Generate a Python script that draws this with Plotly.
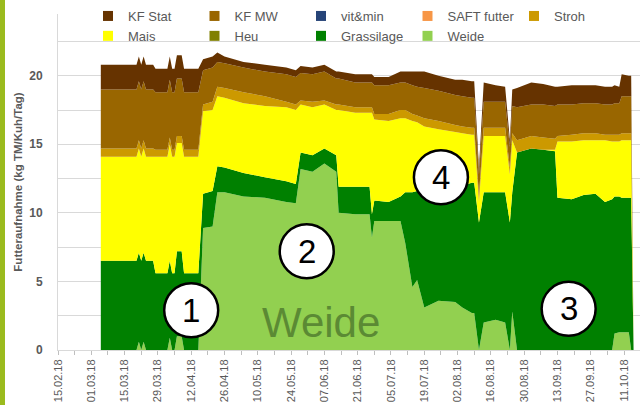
import plotly.graph_objects as go
from datetime import datetime

# ---------------- data (kg TM / Kuh / Tag) ----------------
dates = [
    "2018-03-05", "2018-03-20", "2018-03-21", "2018-03-22", "2018-03-23", "2018-03-24",
    "2018-03-27", "2018-03-28", "2018-04-02", "2018-04-03", "2018-04-04", "2018-04-05",
    "2018-04-06", "2018-04-08", "2018-04-09", "2018-04-15", "2018-04-17", "2018-04-21",
    "2018-04-23", "2018-04-26", "2018-05-04", "2018-05-13", "2018-05-22", "2018-05-26",
    "2018-05-28", "2018-06-02", "2018-06-07", "2018-06-12", "2018-06-13", "2018-06-20",
    "2018-06-26", "2018-06-27", "2018-06-28", "2018-07-04", "2018-07-09", "2018-07-11",
    "2018-07-14", "2018-07-16", "2018-07-19", "2018-07-25", "2018-08-01", "2018-08-04",
    "2018-08-08", "2018-08-09", "2018-08-11", "2018-08-13", "2018-08-18", "2018-08-22",
    "2018-08-24", "2018-08-25", "2018-08-27", "2018-09-02", "2018-09-07", "2018-09-12",
    "2018-09-13", "2018-09-19", "2018-09-24", "2018-09-29", "2018-10-03", "2018-10-06",
    "2018-10-07", "2018-10-09", "2018-10-10", "2018-10-13", "2018-10-14", "2018-10-15",
]
weide = [
    0, 0, 0.6, 0, 0.6, 0,
    0, 0, 0, 0.9, 0, 0,
    1.0, 1.0, 0, 0, 8.9, 9.0,
    11.5, 11.5, 11.2, 11.1, 10.8, 10.7,
    13.2, 13.0, 13.6, 13.0, 10.0, 9.9,
    9.9, 8.2, 9.4, 9.4, 9.4, 7.8,
    4.6, 5.1, 3.1, 3.6, 3.5, 3.1,
    2.7, 2.7, 0, 2.0, 2.2, 2.0,
    0, 2.8, 0, 0, 0, 0,
    0, 0, 0, 0, 0, 0,
    1.2, 1.3, 1.3, 1.3, 0, 0,
]
grassilage = [
    6.5, 6.5, 6.5, 6.5, 6.5, 6.5,
    6.5, 5.6, 5.6, 5.6, 5.6, 5.6,
    6.2, 6.2, 5.6, 5.6, 2.5, 2.6,
    1.9, 1.8, 1.7, 1.5, 1.5, 1.4,
    1.2, 1.2, 1.1, 1.2, 1.9, 2.0,
    2.0, 1.7, 1.5, 1.4, 1.8, 3.7,
    6.9, 6.5, 8.6, 8.2, 8.4, 8.9,
    9.5, 9.5, 9.3, 9.5, 9.3, 9.5,
    9.3, 8.7, 14.4, 14.7, 14.6, 14.5,
    11.1, 11.0, 11.3, 11.4, 10.8, 11.0,
    10.0, 9.9, 9.8, 9.8, 11.1, 0,
]
mais = [
    7.6, 7.6, 7.6, 7.6, 7.6, 7.6,
    7.6, 8.5, 8.5, 8.5, 8.5, 8.5,
    7.9, 7.9, 8.5, 8.5, 6.0, 5.9,
    5.1, 5.1, 5.1, 5.2, 5.4, 5.4,
    3.5, 3.5, 3.2, 3.3, 5.6, 5.4,
    5.4, 7.4, 5.9, 5.9, 5.7, 5.4,
    5.2, 5.0, 4.6, 4.3, 4.0, 3.8,
    3.5, 3.5, 1.5, 4.1, 4.1, 4.1,
    3.5, 3.8, 0, 0, 0, 0.1,
    4.1, 4.2, 4.0, 3.9, 4.5, 4.2,
    4.0, 4.0, 4.2, 4.2, 4.2, 0,
]
stroh = [
    0.6, 0.6, 0.6, 0.6, 0.6, 0.6,
    0.6, 0.5, 0.5, 0.5, 0.5, 0.5,
    0.5, 0.5, 0.5, 0.5, 0.5, 0.6,
    0.7, 0.7, 0.8, 0.7, 0.4, 0.4,
    0.3, 0.4, 0.3, 0.4, 0.4, 0.4,
    0.4, 0.4, 0.4, 0.5, 0.6, 0.6,
    0.5, 0.5, 0.6, 0.6, 0.5, 0.5,
    0.5, 0.5, 0.5, 0.6, 0.6, 0.6,
    0.5, 0.5, 0.9, 0.9, 0.9, 0.8,
    0.4, 0.5, 0.5, 0.5, 0.4, 0.5,
    0.5, 0.5, 0.5, 0.5, 0.5, 0,
]
kf_mw = [
    4.3, 4.3, 4.3, 4.3, 4.3, 4.3,
    4.3, 4.2, 4.2, 4.2, 4.2, 4.2,
    4.2, 4.2, 4.2, 4.2, 2.5, 2.5,
    1.8, 1.8, 1.8, 1.8, 2.0, 2.0,
    2.0, 2.0, 2.1, 1.9, 1.9, 1.8,
    1.8, 1.8, 2.1, 2.1, 2.0, 2.0,
    2.1, 2.1, 2.2, 2.2, 2.2, 2.2,
    2.2, 2.2, 1.5, 1.9, 1.9, 1.9,
    1.5, 2.0, 2.4, 2.3, 2.4, 2.4,
    2.3, 2.2, 2.2, 2.2, 2.2, 2.2,
    2.3, 2.3, 2.7, 2.7, 2.7, 0,
]
kf_stat = [
    1.8, 1.8, 1.8, 1.8, 1.8, 1.8,
    1.8, 1.7, 1.7, 1.7, 1.7, 1.7,
    1.7, 1.7, 1.7, 1.7, 0.8, 0.8,
    0.7, 0.5, 0.4, 0.5, 0.5, 0.5,
    0.5, 0.5, 0.5, 0.5, 0.5, 0.6,
    0.6, 0.6, 0.6, 0.6, 0.8, 0.8,
    1.0, 1.1, 1.2, 1.1, 1.1, 1.2,
    1.2, 1.2, 0.5, 1.4, 1.2, 1.1,
    0.5, 1.2, 1.4, 1.6, 1.5, 1.4,
    1.3, 1.4, 1.3, 1.3, 1.3, 1.3,
    1.3, 1.2, 1.6, 1.5, 1.5, 0,
]

# stacking order (bottom -> top)
stack_names = ["Weide", "Grassilage", "Mais", "Stroh", "KF MW", "KF Stat"]
stack_values = [weide, grassilage, mais, stroh, kf_mw, kf_stat]

# legend (order as shown)
legend_names = ["KF Stat", "KF MW", "vit&min", "SAFT futter", "Stroh",
                "Mais", "Heu", "Grassilage", "Weide"]
colors = {
    "KF Stat": "#663300",
    "KF MW": "#996600",
    "vit&min": "#264478",
    "SAFT futter": "#F79646",
    "Stroh": "#CC9900",
    "Mais": "#FFFF00",
    "Heu": "#808000",
    "Grassilage": "#008000",
    "Weide": "#92D050",
}

x_tick_labels = ["15.02.18", "01.03.18", "15.03.18", "29.03.18", "12.04.18", "26.04.18",
                 "10.05.18", "24.05.18", "07.06.18", "21.06.18", "05.07.18", "19.07.18",
                 "02.08.18", "16.08.18", "30.08.18", "13.09.18", "27.09.18", "11.10.18"]
x_tick_vals = [datetime.strptime(t, "%d.%m.%y").strftime("%Y-%m-%d") for t in x_tick_labels]
y_tick_vals = [0, 5, 10, 15, 20]

circle_texts = ["1", "2", "3", "4"]
circle_x = ["2018-04-12", "2018-05-30 14:00", "2018-09-17 17:00", "2018-07-26"]
circle_y = [2.9, 7.2, 3.0, 12.6]

FONT = "Liberation Sans"
GRAY = "#595959"

fig = go.Figure()

for name, vals in zip(stack_names, stack_values):
    fig.add_trace(go.Scatter(
        x=dates, y=vals, name=name, stackgroup="one", mode="none",
        fillcolor=colors[name], line=dict(width=0), showlegend=False,
        hoverinfo="x+y+name",
    ))

for name in legend_names:
    fig.add_trace(go.Scatter(
        x=[None], y=[None], name=name, mode="markers",
        marker=dict(symbol="square", size=10, color=colors[name]),
        showlegend=True,
    ))

# left decorative strip
fig.add_shape(type="rect", xref="paper", yref="paper",
              x0=-58 / 582, x1=-53 / 582, y0=-55 / 336, y1=1 + 14 / 336,
              fillcolor="#9BBB1E", line=dict(width=0), layer="above")

for t, cx, cy in zip(circle_texts, circle_x, circle_y):
    fig.add_shape(type="circle", xref="x", yref="y",
                  xsizemode="pixel", ysizemode="pixel",
                  xanchor=cx, yanchor=cy,
                  x0=-27, x1=27, y0=-27, y1=27,
                  line=dict(color="black", width=2.5), fillcolor="white",
                  layer="above")
    fig.add_annotation(x=cx, y=cy, text=t, showarrow=False,
                       font=dict(family=FONT, size=33, color="black"),
                       xanchor="center", yanchor="middle")

fig.add_annotation(x="2018-06-05 12:00", y=2.0, text="Weide", showarrow=False,
                   font=dict(family=FONT, size=42, color="#5B8A34"),
                   xanchor="center", yanchor="middle")

fig.update_layout(
    template="none",
    width=640, height=405,
    margin=dict(l=58, r=0, t=14, b=55, pad=0),
    paper_bgcolor="white", plot_bgcolor="white",
    font=dict(family=FONT, color=GRAY),
    showlegend=True,
    legend=dict(
        orientation="h", traceorder="normal",
        x=(88 - 58) / 582, xanchor="left",
        y=(350 - 1) / 336, yanchor="top",
        entrywidth=61.5, entrywidthmode="pixels",
        itemwidth=30,
        font=dict(family=FONT, size=13, color=GRAY),
        bgcolor="rgba(0,0,0,0)", borderwidth=0,
    ),
    xaxis=dict(
        type="date",
        range=["2018-02-15", "2018-10-17 17:00"],
        tickmode="array", tickvals=x_tick_vals, ticktext=x_tick_labels,
        tickangle=-90,
        tickfont=dict(family=FONT, size=11, color=GRAY),
        ticks="outside", ticklen=4, tickcolor="#BFBFBF", tickwidth=1,
        minor=dict(tickmode="linear", tick0="2018-02-22", dtick=7 * 86400000,
                   ticks="outside", ticklen=4, tickcolor="#BFBFBF", showgrid=False),
        showline=True, linecolor="#D9D9D9", linewidth=1,
        showgrid=False, zeroline=False, automargin=False,
    ),
    yaxis=dict(
        range=[0, 24.5],
        tickmode="array", tickvals=y_tick_vals,
        tickfont=dict(family=FONT, size=12, color=GRAY, weight="bold"),
        ticks="", ticklabelstandoff=12,
        minor=dict(tickmode="linear", tick0=0, dtick=2.5, showgrid=True,
                   gridcolor="#D9D9D9", gridwidth=1),
        showgrid=True, gridcolor="#D9D9D9", gridwidth=1,
        showline=True, linecolor="#D9D9D9", linewidth=1,
        zeroline=False, automargin=False,
        title=dict(text="Futteraufnahme (kg TM/Kuh/Tag)", standoff=4,
                   font=dict(family=FONT, size=11.5, color=GRAY, weight="bold")),
    ),
)

fig.write_html("out.html", config={"displayModeBar": False},
               post_script="document.body.style.margin='0';")
